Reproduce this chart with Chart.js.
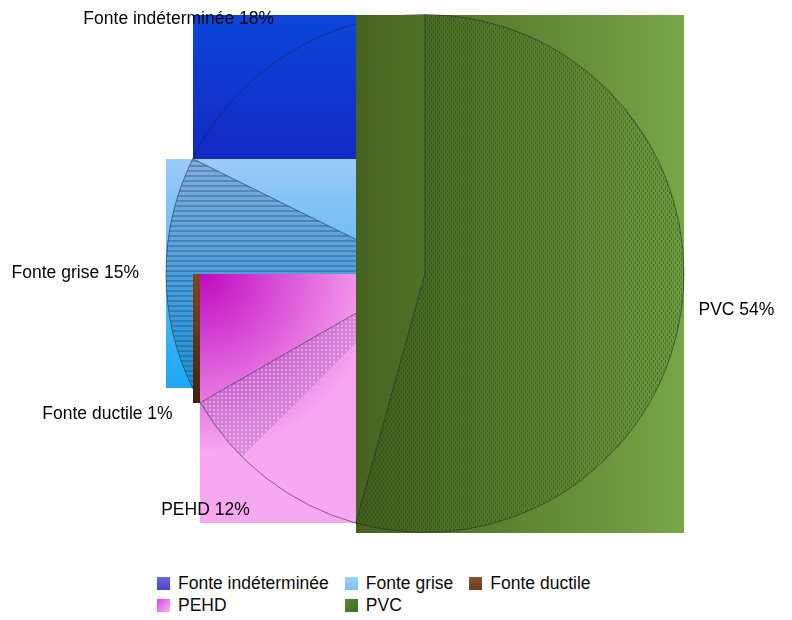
<!DOCTYPE html>
<html><head><meta charset="utf-8">
<script src="https://cdn.jsdelivr.net/npm/chart.js@4/dist/chart.umd.min.js"></script>
<style>
html,body{margin:0;padding:0;background:#fff;}
#wrap{position:relative;width:792px;height:620px;overflow:hidden;}
#c{position:absolute;left:0;top:0;}
#legend{position:absolute;left:157px;top:572px;display:grid;grid-template-columns:auto auto auto;column-gap:16px;row-gap:0px;font-family:"Liberation Sans",Arial,sans-serif;font-size:17.5px;color:#0a0a0a;}
.item{display:flex;align-items:center;height:22px;white-space:nowrap;}
.sw{width:13px;height:13px;margin-right:8px;flex:none;}
</style></head><body>
<div id="wrap"><canvas id="c" width="792" height="560"></canvas><div id="legend"></div></div>
<script>
// ---- data (legend order) ----
const categories = ["Fonte indéterminée", "Fonte grise", "Fonte ductile", "PEHD", "PVC"];
const shares = [17.7, 14.6, 1.0, 12.4, 54.3];

// chart draws clockwise from top; the original runs the other way, so feed it reversed
const chartLabels = categories.slice().reverse();
const chartValues = shares.slice().reverse();

// ---- styles ----
function makePattern(w, h, painter) {
  const cv = document.createElement('canvas'); cv.width = w; cv.height = h;
  const g = cv.getContext('2d'); painter(g);
  return document.createElement('canvas').getContext('2d').createPattern(cv, 'repeat');
}
const patterns = {
  "Fonte indéterminée": 'rgba(0,0,0,0)',
  "Fonte grise": makePattern(1, 5, g => { g.fillStyle='rgba(25,60,110,0.45)'; g.fillRect(0,0,1,2); g.fillStyle='rgba(25,60,110,0.2)'; g.fillRect(0,2,1,3); }),
  "Fonte ductile": 'rgba(0,0,0,0)',
  "PEHD": 'rgba(0,0,0,0)',
  "PVC": makePattern(4, 6, g => { g.fillStyle='rgba(25,50,8,0.10)'; g.fillRect(0,0,4,6); g.fillStyle='rgba(25,50,8,0.35)'; g.fillRect(1,0,1,3); g.fillRect(3,3,1,3); })
};
const pehdTexture = makePattern(4, 4, g => { g.fillStyle='rgba(150,90,170,0.30)'; g.fillRect(0,0,4,4); g.fillStyle='rgba(255,215,255,0.45)'; g.fillRect(1,1,2,2); });

const boxFill = {
  "Fonte indéterminée": (ctx,b) => { const g = ctx.createLinearGradient(0,b.y0,0,b.y1); g.addColorStop(0,'#0b46da'); g.addColorStop(1,'#1b10b0'); return g; },
  "Fonte grise": (ctx,b) => { const g = ctx.createLinearGradient(0,b.y0,0,b.y1); g.addColorStop(0,'#9ccaf9'); g.addColorStop(1,'#1ca8f2'); return g; },
  "Fonte ductile": (ctx,b) => { const g = ctx.createLinearGradient(0,b.y0,0,b.y1); g.addColorStop(0,'#7b4a22'); g.addColorStop(1,'#45200e'); return g; },
  "PEHD": (ctx,b) => { const w = b.x1-b.x0, h = b.y1-b.y0, R = Math.min(w,h)*0.8;
    const g = ctx.createRadialGradient(b.x0,b.y0,0,b.x0,b.y0,R);
    g.addColorStop(0,'#c00ac0'); g.addColorStop(1,'#f8a8f0'); return g; },
  "PVC": (ctx,b) => { const g = ctx.createLinearGradient(b.x0,0,b.x1,0); g.addColorStop(0,'#45631f'); g.addColorStop(1,'#78a646'); return g; }
};
const swatch = {
  "Fonte indéterminée": 'linear-gradient(#6a6ae0,#4545c8)',
  "Fonte grise": 'linear-gradient(#a0d4fc,#78bff4)',
  "Fonte ductile": 'linear-gradient(#8a5630,#6a3a1c)',
  "PEHD": 'linear-gradient(135deg,#e040e0,#f8b8f4)',
  "PVC": 'linear-gradient(135deg,#5a8a36,#3e6a24)'
};

function arcBox(a) {
  const r = a.outerRadius, pts = [[a.x, a.y]];
  pts.push([a.x + r*Math.cos(a.startAngle), a.y + r*Math.sin(a.startAngle)]);
  pts.push([a.x + r*Math.cos(a.endAngle), a.y + r*Math.sin(a.endAngle)]);
  for (let k = Math.ceil(a.startAngle/(Math.PI/2)); k*Math.PI/2 <= a.endAngle; k++) {
    const t = k*Math.PI/2; pts.push([a.x + r*Math.cos(t), a.y + r*Math.sin(t)]);
  }
  const xs = pts.map(p=>p[0]), ys = pts.map(p=>p[1]);
  return {x0:Math.min(...xs), y0:Math.min(...ys), x1:Math.max(...xs), y1:Math.max(...ys)};
}

const boxPlugin = {
  id: 'boxes',
  beforeDatasetsDraw(chart) {
    const ctx = chart.ctx, meta = chart.getDatasetMeta(0);
    for (let i = meta.data.length - 1; i >= 0; i--) {
      const a = meta.data[i], name = chartLabels[i], b = arcBox(a);
      ctx.save();
      ctx.fillStyle = boxFill[name](ctx, b);
      ctx.fillRect(Math.round(b.x0), Math.round(b.y0), Math.round(b.x1) - Math.round(b.x0), Math.round(b.y1) - Math.round(b.y0));
      if (name === "PEHD") {
        const span = a.endAngle - a.startAngle;
        ctx.beginPath(); ctx.moveTo(a.x, a.y);
        ctx.arc(a.x, a.y, a.outerRadius, a.endAngle - span*0.34, a.endAngle); ctx.closePath();
        ctx.fillStyle = pehdTexture; ctx.fill();
      }
      ctx.restore();
      a.draw(ctx);
    }
    return false;
  },
  afterDraw(chart) {
    const ctx = chart.ctx, meta = chart.getDatasetMeta(0);
    ctx.save();
    ctx.font = '17.5px "Liberation Sans", Arial, sans-serif';
    ctx.fillStyle = '#050505'; ctx.textBaseline = 'middle';
    meta.data.forEach((a, i) => {
      const mid = (a.startAngle + a.endAngle)/2, c = Math.cos(mid), s = Math.sin(mid);
      const txt = chartLabels[i] + ' ' + Math.round(chartValues[i]) + '%';
      if (c < 0) { ctx.textAlign = 'right'; ctx.fillText(txt, a.x + c*(a.outerRadius+27), a.y + s*(a.outerRadius+40)); }
      else { ctx.textAlign = 'left'; ctx.fillText(txt, a.x + c*(a.outerRadius+17), a.y + s*(a.outerRadius+17)); }
    });
    ctx.restore();
  }
};

new Chart(document.getElementById('c'), {
  type: 'pie',
  data: { labels: chartLabels, datasets: [{ data: chartValues,
    backgroundColor: chartLabels.map(n => patterns[n]),
    borderColor: 'rgba(25,35,55,0.55)', borderWidth: 1, hoverOffset: 0, offset: 0 }] },
  options: {
    responsive: false, animation: false, events: [],
    layout: { padding: { left: 165.5, right: 107.5, top: 14, bottom: 27 } },
    plugins: { legend: { display: false }, tooltip: { enabled: false } }
  },
  plugins: [boxPlugin]
});

// legend in the original's grid layout
const lg = document.getElementById('legend');
categories.forEach(n => {
  const d = document.createElement('div'); d.className = 'item';
  const s = document.createElement('span'); s.className = 'sw'; s.style.background = swatch[n];
  d.appendChild(s); d.appendChild(document.createTextNode(n)); lg.appendChild(d);
});
</script>
</body></html>
